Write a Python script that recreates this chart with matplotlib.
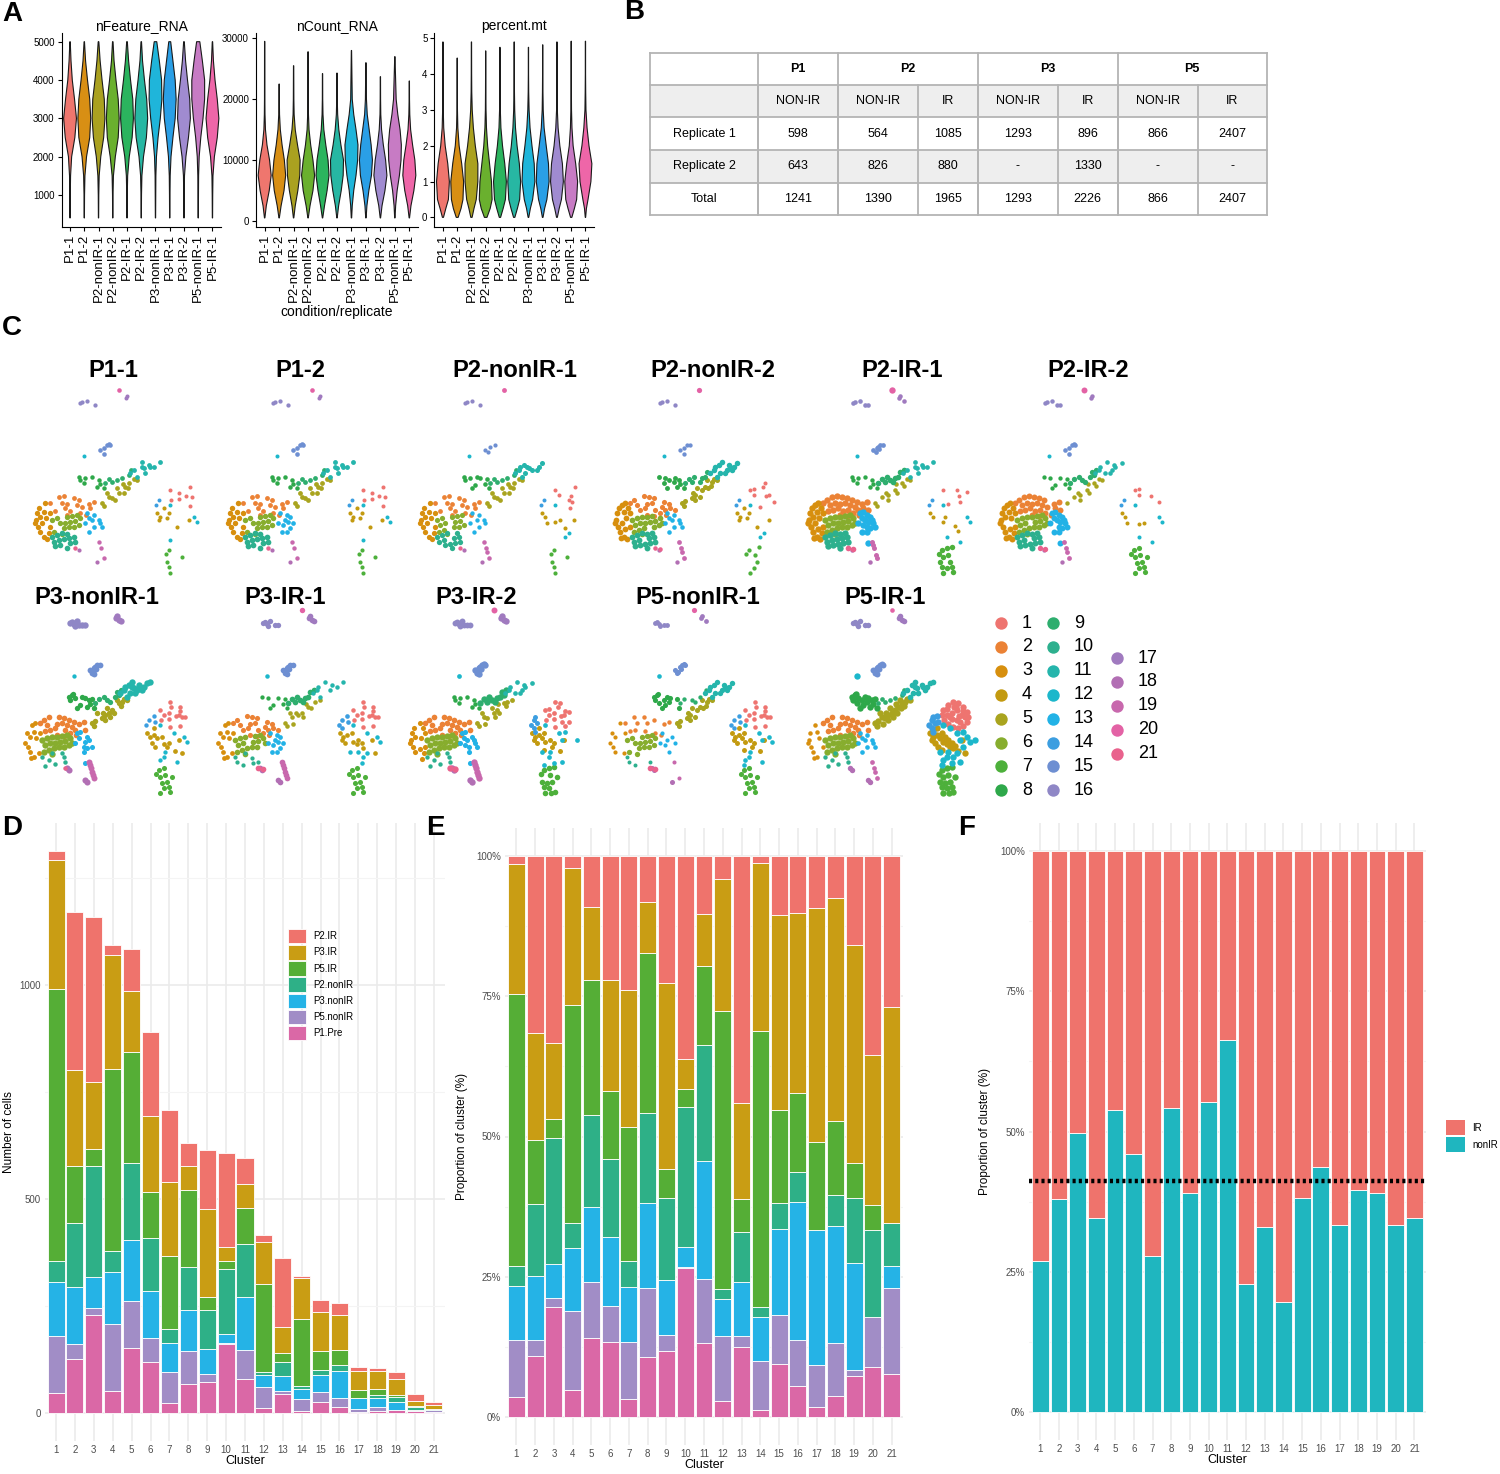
import numpy as np
import matplotlib
matplotlib.use("Agg")
import matplotlib.pyplot as plt
from matplotlib.patches import Rectangle, Polygon, Patch

plt.rcParams['font.family'] = ['Liberation Sans', 'DejaVu Sans']

# ---------------- panel A: violin profiles (relative width at each level)
SAMPLES = ["P1-1", "P1-2", "P2-nonIR-1", "P2-nonIR-2", "P2-IR-1", "P2-IR-2",
           "P3-nonIR-1", "P3-IR-1", "P3-IR-2", "P5-nonIR-1", "P5-IR-1"]
SAMPLE_COLORS = ["#EF766E", "#D88F14", "#AAA120", "#6AB02E", "#2BB45E", "#27B7A3",
                 "#1FB5DA", "#2A9FE6", "#A08BD0", "#C77BC4", "#EE66A8"]

FEAT_LEVELS = [400, 1000, 1500, 2000, 2500, 3000, 3500, 4000, 4500, 5000]
FEAT_W = [
    [0.02, 0.04, 0.08, 0.25, 0.75, 1.0, 0.70, 0.35, 0.15, 0.03],
    [0.02, 0.04, 0.10, 0.35, 0.85, 1.0, 0.85, 0.50, 0.20, 0.03],
    [0.02, 0.04, 0.10, 0.35, 0.80, 1.0, 0.90, 0.55, 0.25, 0.05],
    [0.02, 0.04, 0.10, 0.40, 0.85, 1.0, 0.85, 0.50, 0.20, 0.04],
    [0.02, 0.04, 0.10, 0.35, 0.80, 1.0, 0.90, 0.55, 0.25, 0.05],
    [0.02, 0.04, 0.10, 0.35, 0.80, 1.0, 0.85, 0.50, 0.20, 0.04],
    [0.02, 0.04, 0.06, 0.15, 0.40, 0.75, 1.0, 0.95, 0.60, 0.20],
    [0.02, 0.04, 0.07, 0.20, 0.50, 0.85, 1.0, 0.85, 0.50, 0.15],
    [0.02, 0.04, 0.08, 0.30, 0.70, 1.0, 0.90, 0.55, 0.25, 0.05],
    [0.02, 0.04, 0.06, 0.15, 0.40, 0.75, 1.0, 1.0, 0.65, 0.25],
    [0.02, 0.04, 0.08, 0.30, 0.75, 1.0, 0.75, 0.40, 0.15, 0.03],
]
COUNT_LEVELS = [500, 2500, 5000, 7500, 10000, 12500, 15000, 17500, 20000]
COUNT_MAX = [29500, 22500, 25500, 27800, 24200, 24300, 28000, 26000, 23700, 27000, 23000]
COUNT_W = [
    [0.03, 0.25, 0.70, 1.0, 0.75, 0.35, 0.12, 0.05, 0.03],
    [0.03, 0.30, 0.75, 1.0, 0.80, 0.45, 0.18, 0.06, 0.03],
    [0.03, 0.25, 0.65, 0.95, 1.0, 0.60, 0.25, 0.08, 0.04],
    [0.03, 0.30, 0.75, 1.0, 0.75, 0.40, 0.15, 0.06, 0.03],
    [0.03, 0.30, 0.70, 1.0, 0.85, 0.50, 0.20, 0.07, 0.03],
    [0.03, 0.25, 0.65, 0.95, 1.0, 0.60, 0.28, 0.10, 0.04],
    [0.03, 0.12, 0.35, 0.70, 0.95, 1.0, 0.70, 0.35, 0.12],
    [0.03, 0.15, 0.45, 0.85, 1.0, 0.80, 0.50, 0.20, 0.08],
    [0.03, 0.25, 0.70, 1.0, 0.80, 0.45, 0.18, 0.06, 0.03],
    [0.03, 0.12, 0.35, 0.70, 0.95, 1.0, 0.80, 0.45, 0.20],
    [0.03, 0.25, 0.70, 1.0, 0.85, 0.50, 0.20, 0.07, 0.03],
]
MT_LEVELS = [0, 0.25, 0.5, 1.0, 1.5, 2.0, 2.5, 3.0, 3.5, 4.0]
MT_MAX = [4.9, 4.45, 4.9, 4.65, 4.75, 4.9, 4.75, 4.82, 4.9, 4.92, 4.92]
MT_W = [
    [0.08, 0.45, 0.85, 1.0, 0.75, 0.35, 0.12, 0.05, 0.03, 0.02],
    [0.15, 0.60, 0.90, 1.0, 0.70, 0.30, 0.10, 0.04, 0.02, 0.02],
    [0.10, 0.40, 0.75, 1.0, 1.0, 0.60, 0.30, 0.12, 0.05, 0.03],
    [0.20, 0.70, 1.0, 0.90, 0.60, 0.30, 0.12, 0.05, 0.03, 0.02],
    [0.10, 0.50, 0.85, 1.0, 0.75, 0.40, 0.15, 0.06, 0.03, 0.02],
    [0.10, 0.50, 0.85, 1.0, 0.80, 0.45, 0.20, 0.08, 0.04, 0.02],
    [0.05, 0.30, 0.65, 1.0, 0.90, 0.55, 0.25, 0.10, 0.04, 0.02],
    [0.05, 0.30, 0.65, 1.0, 0.90, 0.55, 0.22, 0.08, 0.04, 0.02],
    [0.06, 0.35, 0.70, 1.0, 0.85, 0.45, 0.18, 0.06, 0.03, 0.02],
    [0.10, 0.50, 0.85, 1.0, 0.70, 0.30, 0.12, 0.05, 0.03, 0.02],
    [0.03, 0.15, 0.40, 0.85, 1.0, 0.55, 0.25, 0.08, 0.04, 0.02],
]

# ---------------- panel B: cell numbers table
TB_PATIENTS = ["P1", "P2", "P3", "P5"]
TB_SPAN = [1, 2, 2, 2]
TB_COND = ["NON-IR", "NON-IR", "IR", "NON-IR", "IR", "NON-IR", "IR"]
TB_ROWS = ["Replicate 1", "Replicate 2", "Total"]
TB_REP1 = ["598", "564", "1085", "1293", "896", "866", "2407"]
TB_REP2 = ["643", "826", "880", "-", "1330", "-", "-"]
TB_TOTAL = ["1241", "1390", "1965", "1293", "2226", "866", "2407"]
SAMPLE_CELLS = [598, 643, 564, 826, 1085, 880, 1293, 896, 1330, 866, 2407]
SAMPLE_GROUP = ["P1.Pre", "P1.Pre", "P2.nonIR", "P2.nonIR", "P2.IR", "P2.IR",
                "P3.nonIR", "P3.IR", "P3.IR", "P5.nonIR", "P5.IR"]

# ---------------- panel D: cells per cluster and group (stacked bottom -> top)
CLUSTERS = list(range(1, 22))
GROUPS = ["P1.Pre", "P5.nonIR", "P3.nonIR", "P2.nonIR", "P5.IR", "P3.IR", "P2.IR"]
GROUP_COLORS = ["#DA68A6", "#A18DC6", "#25B3E6", "#2EB087", "#55AE36", "#C99D14", "#EF736C"]
P1_PRE = [47, 127, 228, 52, 153, 119, 23, 67, 72, 161, 79, 12, 45, 4, 25, 14, 2, 4, 7, 4, 2]
P5_NONIR = [132, 34, 18, 155, 108, 57, 72, 78, 18, 2, 68, 48, 7, 28, 23, 21, 8, 10, 1, 4, 4]
P3_NONIR = [128, 134, 71, 122, 144, 110, 69, 95, 60, 21, 125, 28, 35, 25, 41, 63, 26, 22, 18, 0, 1]
P2_NONIR = [47, 149, 259, 50, 179, 124, 33, 101, 90, 152, 123, 7, 32, 6, 12, 14, 0, 6, 11, 7, 2]
P5_IR = [636, 134, 41, 425, 260, 107, 169, 180, 32, 20, 84, 207, 21, 157, 44, 36, 17, 14, 6, 2, 0]
P3_IR = [303, 224, 156, 267, 141, 176, 174, 57, 204, 32, 55, 98, 62, 96, 92, 82, 45, 42, 37, 12, 10]
P2_IR = [19, 369, 387, 23, 99, 197, 169, 52, 139, 220, 62, 17, 159, 4, 28, 26, 10, 8, 15, 16, 7]
COUNTS = [P1_PRE, P5_NONIR, P3_NONIR, P2_NONIR, P5_IR, P3_IR, P2_IR]
IR_COLOR, NONIR_COLOR = "#EF736C", "#1FB6BF"

# ---------------- panel C: UMAP layout, hand-read cell positions per cluster
CL_COLORS = ["#EE7470", "#EB8235", "#D78F0E", "#C39A10", "#A9A41F", "#87AD2E", "#4DB03B",
             "#2EA84A", "#2EAE6E", "#2DB08E", "#25B5AC", "#1CB7CB", "#22B2E6", "#3C9EE0",
             "#6E8FD2", "#8F87C6", "#A07ABF", "#B26FB4", "#C868AD", "#E362A5", "#E9628D"]
C01 = [(430, 330), (445, 315), (460, 305), (475, 310), (490, 320), (500, 335), (505, 350),
       (500, 365), (490, 378), (475, 385), (460, 380), (445, 372), (432, 360), (425, 345),
       (440, 345), (455, 340), (470, 330), (485, 345), (470, 360), (455, 358), (440, 328),
       (462, 322), (480, 365), (495, 352), (468, 322), (488, 332), (450, 352), (478, 348)]
C02 = [(70, 370), (80, 360), (95, 352), (110, 348), (125, 350), (140, 355), (155, 360),
       (170, 365), (185, 372), (90, 375), (105, 368), (120, 372), (135, 368), (150, 375),
       (165, 382), (100, 390), (115, 385), (130, 392), (145, 390), (160, 398), (175, 390),
       (85, 392), (120, 405), (140, 408), (190, 385), (200, 365), (205, 390), (178, 405)]
C03 = [(30, 400), (35, 385), (45, 375), (55, 368), (28, 420), (38, 410), (50, 395), (62, 385),
       (32, 440), (45, 430), (58, 415), (40, 455), (55, 448), (50, 470), (65, 460), (70, 440),
       (68, 400), (42, 475), (60, 478), (25, 430)]
C04 = [(390, 400), (400, 390), (410, 405), (420, 415), (430, 425), (440, 432), (450, 440),
       (460, 445), (475, 452), (395, 420), (405, 430), (415, 440), (425, 400), (435, 410),
       (445, 420), (410, 385), (455, 430), (465, 438), (485, 420), (495, 460), (425, 450),
       (398, 412)]
C05 = [(225, 370), (235, 362), (245, 350), (255, 355), (265, 345), (275, 340), (285, 330),
       (295, 320), (305, 310), (315, 305), (322, 298), (250, 372), (232, 378), (265, 360),
       (280, 350), (292, 338), (302, 325), (312, 318), (240, 340), (258, 338), (270, 325),
       (288, 312), (300, 300), (330, 300)]
C06 = [(75, 420), (90, 415), (105, 410), (120, 412), (135, 408), (150, 405), (160, 415),
       (85, 435), (100, 428), (115, 430), (130, 425), (145, 422), (95, 450), (110, 445),
       (125, 440), (140, 440), (155, 435), (165, 428), (80, 455), (105, 462)]
C07 = [(425, 510), (440, 505), (455, 500), (465, 530), (430, 530), (445, 525), (420, 545),
       (435, 548), (450, 545), (425, 560), (440, 565), (455, 560), (430, 578), (448, 580),
       (460, 575), (418, 522)]
C08 = [(155, 290), (165, 285), (175, 295), (185, 300), (195, 290), (205, 295), (215, 300),
       (225, 298), (170, 310), (190, 315), (210, 320), (180, 325), (160, 300), (200, 305),
       (220, 312), (168, 282), (230, 325)]
C09 = [(245, 298), (260, 290), (270, 300), (285, 295), (295, 290), (305, 285), (280, 305),
       (255, 305), (312, 270), (300, 275), (235, 310)]
C10 = [(75, 470), (90, 465), (105, 460), (120, 462), (135, 458), (80, 485), (95, 480),
       (110, 478), (125, 475), (140, 472), (100, 495), (115, 492), (130, 490), (85, 498),
       (120, 503), (145, 485)]
C11 = [(320, 270), (335, 255), (345, 245), (350, 265), (360, 270), (370, 262), (380, 260),
       (390, 250), (398, 246), (340, 280), (330, 290), (355, 280), (325, 260), (345, 262),
       (365, 255), (375, 270), (310, 280)]
C12 = [(430, 375), (450, 385), (470, 400), (490, 395), (500, 410), (480, 420), (470, 460),
       (440, 470), (455, 490), (430, 480), (420, 455), (480, 485), (460, 470), (425, 495),
       (510, 425), (525, 420), (445, 455), (490, 440), (172, 228)]
C13 = [(180, 400), (190, 395), (200, 405), (210, 410), (185, 415), (195, 420), (205, 425),
       (215, 420), (190, 435), (200, 440), (210, 445), (220, 430), (225, 440), (200, 455),
       (185, 455), (205, 490), (175, 430)]
C14 = [(395, 360), (400, 350), (410, 348), (405, 370), (395, 385), (415, 365), (400, 395),
       (388, 375)]
C15 = [(220, 210), (225, 218), (230, 205), (235, 200), (240, 195), (245, 192), (228, 215),
       (232, 222), (238, 208), (248, 196)]
C16 = [(165, 65), (170, 72), (180, 62), (185, 75), (195, 75), (205, 75), (175, 78), (160, 70)]
C17 = [(300, 48), (305, 60), (312, 62), (298, 55)]
C18 = [(210, 545), (205, 540), (150, 505), (155, 510)]
C19 = [(215, 485), (220, 495), (222, 505), (225, 515), (228, 525), (230, 535)]
C20 = [(275, 30)]
C21 = [(145, 505), (160, 508)]
CLUSTER_PTS = [C01, C02, C03, C04, C05, C06, C07, C08, C09, C10, C11, C12, C13, C14,
               C15, C16, C17, C18, C19, C20, C21]

W, H = 1500, 1474
fig = plt.figure(figsize=(W / 100, H / 100), dpi=100)


def add_ax(l, t, r, b):
    return fig.add_axes([l / W, 1 - b / H, (r - l) / W, (b - t) / H])


def letter(x, y, s):
    fig.text(x / W, 1 - y / H, s, fontsize=20, fontweight="bold", ha="left", va="center")


# ================= A: violins
def violins(ax, levels, widths, tops, title, ticks, ylim):
    for i, (w, col) in enumerate(zip(widths, SAMPLE_COLORS)):
        ys = list(levels) + ([tops[i]] if tops is not None else [])
        ws = list(w) + ([0.02] if tops is not None else [])
        ws = 0.45 * np.array(ws)
        xs = np.concatenate([i + 1 - ws, (i + 1 + ws)[::-1]])
        yy = np.concatenate([ys, ys[::-1]])
        ax.add_patch(Polygon(np.column_stack([xs, yy]), closed=True, facecolor=col,
                             edgecolor="#1a1a1a", lw=0.8))
    ax.set_xlim(0.4, len(SAMPLES) + 0.6)
    ax.set_ylim(*ylim)
    ax.set_yticks(ticks)
    ax.set_xticks(range(1, len(SAMPLES) + 1))
    ax.set_xticklabels(SAMPLES, rotation=90, fontsize=9.5)
    ax.tick_params(axis="y", labelsize=7, length=3, pad=2)
    ax.tick_params(axis="x", length=3, pad=2)
    for s in ("top", "right"):
        ax.spines[s].set_visible(False)
    ax.set_title(title, fontsize=10, pad=-4)


letter(2, 14, "A")
axA1 = add_ax(61.5, 33.3, 221, 226.7)
violins(axA1, FEAT_LEVELS, FEAT_W, None, "nFeature_RNA", [1000, 2000, 3000, 4000, 5000], (173, 5219))
axA2 = add_ax(256, 33.3, 418, 226.7)
violins(axA2, COUNT_LEVELS, COUNT_W, COUNT_MAX, "nCount_RNA", [0, 10000, 20000, 30000], (-934, 30820))
axA2.set_xlabel("condition/replicate", fontsize=10, labelpad=2)
axA3 = add_ax(434.4, 33.3, 594, 226.7)
violins(axA3, MT_LEVELS, MT_W, MT_MAX, "percent.mt", [0, 1, 2, 3, 4, 5], (-0.26, 5.14))

# ================= B: table
letter(624, 12, "B")
axB = add_ax(640, 40, 1280, 225)
axB.set_xlim(640, 1280)
axB.set_ylim(225, 40)
axB.axis("off")
col_x = [650.2, 758, 838, 918, 977.7, 1058, 1117.5, 1198, 1267]
row_y = [52.7, 85, 117.3, 150, 182.7, 215]
grey = "#eeeeee"
for r in (1, 3):
    axB.add_patch(Rectangle((col_x[0], row_y[r]), col_x[-1] - col_x[0], row_y[r + 1] - row_y[r],
                            facecolor=grey, edgecolor="none"))
lc = "#b4b4b4"
for y in row_y:
    axB.plot([col_x[0], col_x[-1]], [y, y], color=lc, lw=1.3)
axB.plot([col_x[0], col_x[0]], [row_y[0], row_y[-1]], color=lc, lw=1.3)
axB.plot([col_x[-1], col_x[-1]], [row_y[0], row_y[-1]], color=lc, lw=1.3)
edges = [1]
for sp in TB_SPAN:
    edges.append(edges[-1] + sp)
for e in edges[:-1]:
    axB.plot([col_x[e], col_x[e]], [row_y[0], row_y[-1]], color=lc, lw=1.3)
for e in range(1, len(col_x) - 1):
    axB.plot([col_x[e], col_x[e]], [row_y[1], row_y[-1]], color=lc, lw=1.3)
for p, a, b in zip(TB_PATIENTS, edges[:-1], edges[1:]):
    axB.text((col_x[a] + col_x[b]) / 2, (row_y[0] + row_y[1]) / 2, p, ha="center", va="center",
             fontsize=9, fontweight="bold")
rows_vals = [TB_COND, TB_REP1, TB_REP2, TB_TOTAL]
for r, vals in enumerate(rows_vals):
    yc = (row_y[r + 1] + row_y[r + 2]) / 2
    if r > 0:
        axB.text((col_x[0] + col_x[1]) / 2, yc, TB_ROWS[r - 1], ha="center", va="center", fontsize=9)
    for c, v in enumerate(vals):
        axB.text((col_x[c + 1] + col_x[c + 2]) / 2, yc, v, ha="center", va="center", fontsize=9)

# ================= C: UMAP per sample
letter(2, 328, "C")
grp_tot = {}
for g, n in zip(SAMPLE_GROUP, SAMPLE_CELLS):
    grp_tot[g] = grp_tot.get(g, 0) + n
group_counts = dict(zip(GROUPS, COUNTS))
panel_counts = np.array([[group_counts[g][k] * n / grp_tot[g] for k in range(21)]
                         for g, n in zip(SAMPLE_GROUP, SAMPLE_CELLS)])
cmax = panel_counts.max(axis=0)

umap_left = [27, 220, 412, 607, 800, 992, 17, 210, 402, 602, 800]
umap_top = [380] * 6 + [600] * 5
title_x = [113, 300, 515, 713, 902, 1088, 97, 285, 476, 698, 885]
title_y = [370] * 6 + [597] * 5
for s, name in enumerate(SAMPLES):
    ax = add_ax(umap_left[s], umap_top[s], umap_left[s] + 200, umap_top[s] + 200)
    ax.set_xlim(0, 600)
    ax.set_ylim(600, 0)
    ax.axis("off")
    for k, pts in enumerate(CLUSTER_PTS):
        c = panel_counts[s, k]
        if c <= 0:
            continue
        frac = c / cmax[k]
        n = int(np.ceil(len(pts) * frac ** 0.4))
        idx = np.unique(np.linspace(0, len(pts) - 1, n).round().astype(int))
        arr = np.array(pts)[idx]
        ax.scatter(arr[:, 0], arr[:, 1], s=8 + 13 * frac, c=CL_COLORS[k], linewidths=0)
    fig.text(title_x[s] / W, 1 - title_y[s] / H, name, fontsize=17, fontweight="bold",
             ha="center", va="center")

axL = add_ax(0, 0, W, H)
axL.set_xlim(0, W)
axL.set_ylim(H, 0)
axL.axis("off")
leg_cols = [(1001, 623, CLUSTERS[0:8]), (1053, 623, CLUSTERS[8:16]), (1117, 658, CLUSTERS[16:21])]
for x0, y0, cl in leg_cols:
    for i, k in enumerate(cl):
        axL.scatter([x0], [y0 + 23.9 * i], s=80, c=CL_COLORS[k - 1], linewidths=0)
        axL.text(x0 + 21, y0 + 23.9 * i, str(k), fontsize=13, va="center", ha="left")

# ================= D, E, F: bar charts
x = np.array(CLUSTERS)
counts = np.array(COUNTS, dtype=float)
totals = counts.sum(axis=0)
props = counts / totals


def style_bar_axes(ax, ylab, ylab_x_px, left_px, right_px):
    ax.set_xlim(0.4, 21.6)
    ax.set_xticks(CLUSTERS)
    ax.tick_params(axis="both", length=0, labelsize=7, labelcolor="#4D4D4D", pad=3)
    ax.grid(True, axis="x", color="#ebebeb", lw=1.2)
    ax.grid(True, axis="y", which="major", color="#ebebeb", lw=1.2)
    ax.grid(True, axis="y", which="minor", color="#f4f4f4", lw=0.8)
    ax.tick_params(axis="y", which="minor", length=0)
    ax.set_axisbelow(True)
    for sp in ax.spines.values():
        sp.set_visible(False)
    ax.set_xlabel("Cluster", fontsize=9, labelpad=0)
    ax.set_ylabel(ylab, fontsize=8.5)
    ax.yaxis.set_label_coords((ylab_x_px - left_px) / (right_px - left_px), 0.5)


letter(2, 828, "D")
ymax = totals.max()
axD = add_ax(44.7, 1413 - 1.05 * ymax * 0.428, 445.3, 1413 + 0.05 * ymax * 0.428)
bottom = np.zeros(21)
for g, vals, col in zip(GROUPS, counts, GROUP_COLORS):
    axD.bar(x, vals, 0.9, bottom=bottom, color=col, edgecolor="white", lw=0.6, label=g)
    bottom += vals
axD.set_ylim(-0.05 * ymax, 1.05 * ymax)
axD.set_yticks([0, 500, 1000])
axD.set_yticks([250, 750, 1250], minor=True)
style_bar_axes(axD, "Number of cells", 15, 44.7, 445.3)
h, l = axD.get_legend_handles_labels()
axD.legend(h[::-1], l[::-1], loc="upper left", bbox_to_anchor=(288 / W, 1 - 929 / H),
           bbox_transform=fig.transFigure, frameon=False, fontsize=7, handlelength=1.9,
           handleheight=1.9, labelspacing=0.18, handletextpad=0.7, borderpad=0, borderaxespad=0)

letter(426, 828, "E")
axE = add_ax(505.1, 828, 902.9, 1445)
bottom = np.zeros(21)
for g, vals, col in zip(GROUPS, props, GROUP_COLORS):
    axE.bar(x, vals, 0.9, bottom=bottom, color=col, edgecolor="white", lw=0.6)
    bottom += vals
axE.set_ylim(-0.05, 1.05)
axE.set_yticks([0, 0.25, 0.5, 0.75, 1.0])
axE.set_yticklabels(["0%", "25%", "50%", "75%", "100%"])
axE.set_yticks([0.125, 0.375, 0.625, 0.875], minor=True)
style_bar_axes(axE, "Proportion of cluster (%)", 468, 505.1, 902.9)

letter(958, 828, "F")
axF = add_ax(1029, 823, 1425.7, 1440)
nonir = counts[:4].sum(axis=0) / totals
ir = counts[4:].sum(axis=0) / totals
axF.bar(x, nonir, 0.9, color=NONIR_COLOR, edgecolor="white", lw=0.6, label="nonIR")
axF.bar(x, ir, 0.9, bottom=nonir, color=IR_COLOR, edgecolor="white", lw=0.6, label="IR")
overall = counts[:4].sum() / counts.sum()
axF.axhline(overall, color="black", lw=3.2, ls=(0, (0.7, 0.7)))
axF.set_ylim(-0.05, 1.05)
axF.set_yticks([0, 0.25, 0.5, 0.75, 1.0])
axF.set_yticklabels(["0%", "25%", "50%", "75%", "100%"])
axF.set_yticks([0.125, 0.375, 0.625, 0.875], minor=True)
style_bar_axes(axF, "Proportion of cluster (%)", 991, 1029, 1425.7)
axF.legend(handles=[Patch(facecolor=IR_COLOR, label="IR"), Patch(facecolor=NONIR_COLOR, label="nonIR")],
           loc="upper left", bbox_to_anchor=(1446 / W, 1 - 1120 / H), bbox_transform=fig.transFigure,
           frameon=False, fontsize=7, handlelength=2.0, handleheight=2.0, labelspacing=0.2,
           handletextpad=0.7, borderpad=0, borderaxespad=0)

fig.savefig("out.png", dpi=100)
